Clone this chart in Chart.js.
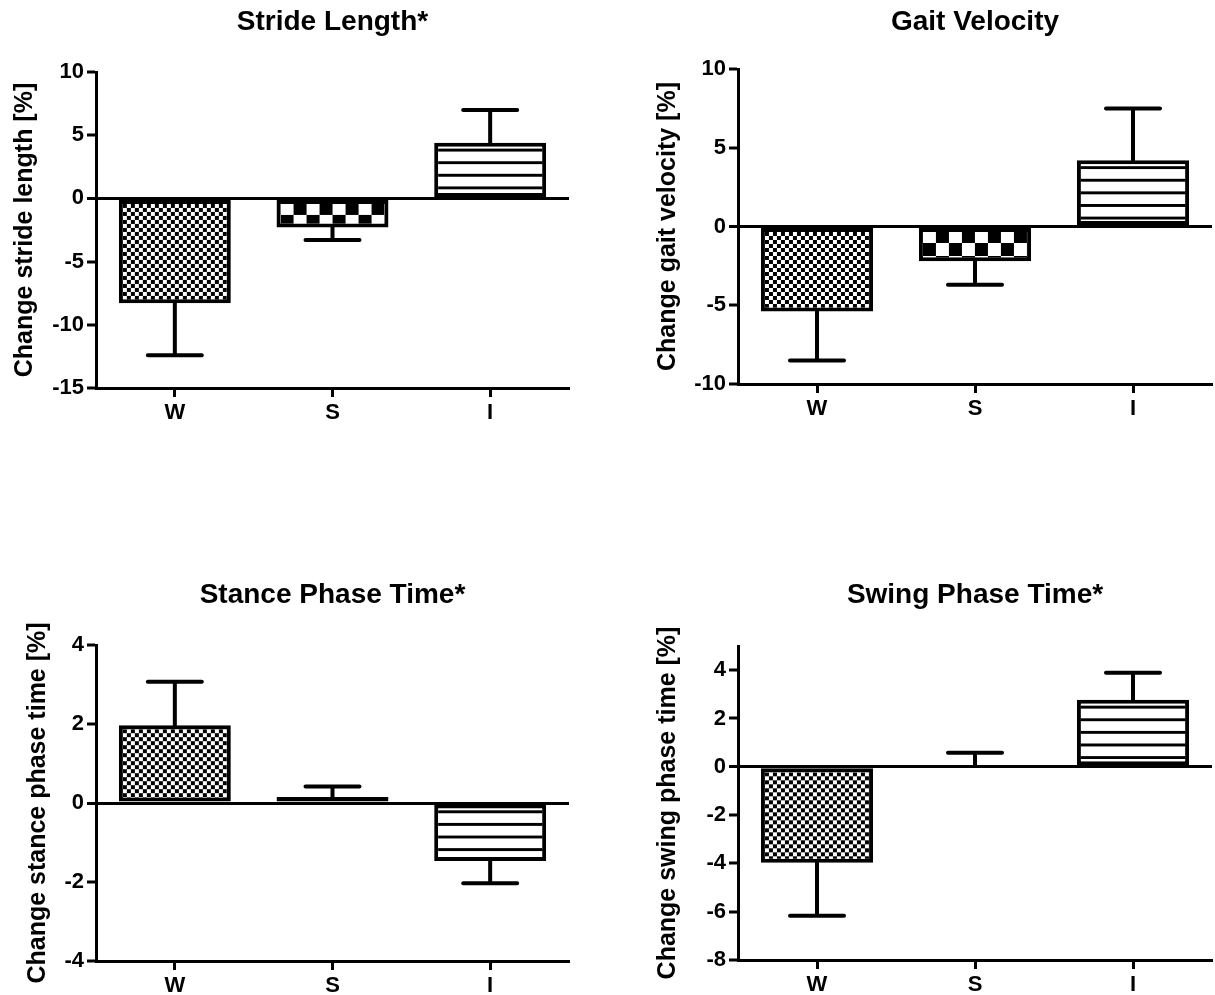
<!DOCTYPE html>
<html>
<head>
<meta charset="utf-8">
<script src="https://cdn.jsdelivr.net/npm/chart.js@4.4.1/dist/chart.umd.min.js"></script>
<style>
  html, body { margin: 0; padding: 0; background: #fff; width: 1215px; height: 995px; overflow: hidden; }
  canvas { position: absolute; }
</style>
</head>
<body>
<canvas id="c1" width="600" height="438" style="left:0px;top:0px"></canvas>
<canvas id="c2" width="575" height="434" style="left:640px;top:0px"></canvas>
<canvas id="c3" width="600" height="451" style="left:0px;top:560px"></canvas>
<canvas id="c4" width="575" height="450" style="left:640px;top:560px"></canvas>
<script>
// ---- Data ----
const categories = ['W', 'S', 'I'];

const strideTitle = 'Stride Length*';
const strideAxisTitle = 'Change stride length [%]';
const strideMean = [-8.3, -2.3, 4.4];
const strideSem = [4.1, 1.0, 2.6];
const strideTicks = [-15, -10, -5, 0, 5, 10];
const strideRange = [-15, 10];

const velocityTitle = 'Gait Velocity';
const velocityAxisTitle = 'Change gait velocity [%]';
const velocityMean = [-5.4, -2.2, 4.2];
const velocitySem = [3.1, 1.5, 3.3];
const velocityTicks = [-10, -5, 0, 5, 10];
const velocityRange = [-10, 10];

const stanceTitle = 'Stance Phase Time*';
const stanceAxisTitle = 'Change stance phase time [%]';
const stanceMean = [1.97, 0.15, -1.47];
const stanceSem = [1.1, 0.27, 0.56];
const stanceTicks = [-4, -2, 0, 2, 4];
const stanceRange = [-4, 4];

const swingTitle = 'Swing Phase Time*';
const swingAxisTitle = 'Change swing phase time [%]';
const swingMean = [-3.97, 0.03, 2.77];
const swingSem = [2.2, 0.55, 1.12];
const swingTicks = [-8, -6, -4, -2, 0, 2, 4];
const swingRange = [-8, 5];

// ---- Patterns ----
function makeTile(w, h, draw) {
  const c = document.createElement('canvas');
  c.width = w; c.height = h;
  const x = c.getContext('2d');
  x.fillStyle = '#fff'; x.fillRect(0, 0, w, h);
  x.fillStyle = '#000';
  draw(x);
  return c;
}
const fineTile = makeTile(8, 8, x => { x.fillRect(0, 0, 4, 4); x.fillRect(4, 4, 4, 4); });
const coarseTile = makeTile(26, 26, x => { x.fillRect(13, 0, 13, 13); x.fillRect(0, 13, 13, 13); });
const lineTile = makeTile(8, 13, x => { x.fillRect(0, 6, 8, 3); });

function makePatterns() {
  const ctx = document.createElement('canvas').getContext('2d');
  return [
    { p: ctx.createPattern(fineTile, 'repeat'), sy: 1, ox: 4, oy: 4 },
    { p: ctx.createPattern(coarseTile, 'repeat'), sy: 1, ox: 4, oy: 2 },
    { p: ctx.createPattern(lineTile, 'repeat'), sy: 12.6 / 13, ox: 0, oy: 0 }
  ];
}

const FONT = "'Liberation Sans', Arial, Helvetica, sans-serif";

const patternAlign = {
  id: 'patternAlign',
  beforeDatasetsDraw(chart, args, opts) {
    const meta = chart.getDatasetMeta(0);
    meta.data.forEach((el, i) => {
      const pr = el.getProps(['x', 'y', 'base', 'width'], true);
      const left = pr.x - pr.width / 2;
      const top = Math.min(pr.y, pr.base);
      const pt = opts.pats[i];
      pt.p.setTransform(new DOMMatrix([1, 0, 0, pt.sy, left + pt.ox, top + pt.oy]));
    });
  }
};

const errorBars = {
  id: 'errorBars',
  afterDatasetsDraw(chart, args, opts) {
    const meta = chart.getDatasetMeta(0);
    const ys = chart.scales.y;
    const ctx = chart.ctx;
    ctx.save();
    ctx.strokeStyle = '#000';
    ctx.lineWidth = 4;
    ctx.lineCap = 'round';
    meta.data.forEach((el, i) => {
      const m = opts.mean[i], s = opts.sem[i];
      const end = m >= 0 ? m + s : m - s;
      const pr = el.getProps(['x', 'y'], true);
      const yEnd = ys.getPixelForValue(end);
      ctx.beginPath();
      ctx.moveTo(pr.x, pr.y);
      ctx.lineTo(pr.x, yEnd);
      ctx.moveTo(pr.x - 27, yEnd);
      ctx.lineTo(pr.x + 27, yEnd);
      ctx.stroke();
    });
    ctx.restore();
  }
};

const yTitlePlugin = {
  id: 'yTitle',
  afterDraw(chart, args, opts) {
    const ctx = chart.ctx;
    const ca = chart.chartArea;
    ctx.save();
    ctx.translate(opts.x, (ca.top + ca.bottom) / 2);
    ctx.rotate(-Math.PI / 2);
    ctx.font = 'bold 25px ' + FONT;
    ctx.fillStyle = '#000';
    ctx.textAlign = 'center';
    ctx.textBaseline = 'middle';
    ctx.fillText(opts.text, 0, 0);
    ctx.restore();
  }
};

function makeChart(id, cfg) {
  const pats = makePatterns();
  return new Chart(document.getElementById(id), {
    type: 'bar',
    data: {
      labels: categories,
      datasets: [{
        data: cfg.mean,
        backgroundColor: pats.map(p => p.p),
        borderColor: '#000',
        borderWidth: 4,
        borderSkipped: false,
        categoryPercentage: 1,
        barPercentage: 0.71
      }]
    },
    plugins: [patternAlign, errorBars, yTitlePlugin],
    options: {
      responsive: false,
      animation: false,
      devicePixelRatio: 1,
      layout: { padding: { left: 0, right: cfg.padRight, top: 0, bottom: 0 } },
      plugins: {
        legend: { display: false },
        tooltip: { enabled: false },
        title: {
          display: true,
          text: cfg.title,
          fullSize: false,
          color: '#000',
          font: { family: FONT, size: 28, weight: 'bold', lineHeight: 1.2 },
          padding: { top: cfg.titleTop, bottom: cfg.titleBottom }
        },
        patternAlign: { pats: pats },
        errorBars: { mean: cfg.mean, sem: cfg.sem },
        yTitle: { text: cfg.axisTitle, x: cfg.axisTitleX }
      },
      scales: {
        x: {
          offset: true,
          grid: { display: true, drawOnChartArea: false, offset: false, tickLength: 9, tickWidth: 3, tickColor: '#000', color: '#000' },
          border: { display: true, color: '#000', width: 3 },
          ticks: { color: '#000', padding: 3, font: { family: FONT, size: 22, weight: 'bold' } },
          afterFit(s) { s.height = 50; }
        },
        y: {
          min: cfg.range[0],
          max: cfg.range[1],
          afterBuildTicks(s) { s.ticks = cfg.ticks.map(v => ({ value: v })); },
          grid: {
            drawOnChartArea: true,
            color: c => (c.tick && c.tick.value === 0) ? '#000' : 'rgba(0,0,0,0)',
            lineWidth: c => (c.tick && c.tick.value === 0) ? 3 : 0,
            tickLength: 9, tickWidth: 3, tickColor: '#000'
          },
          border: { display: true, color: '#000', width: 3 },
          ticks: { color: '#000', padding: 3, callback: v => String(v), font: { family: FONT, size: 22, weight: 'bold' } },
          afterFit(s) { s.width = cfg.yWidth; }
        }
      }
    }
  });
}

makeChart('c1', { title: strideTitle, axisTitle: strideAxisTitle, mean: strideMean, sem: strideSem, ticks: strideTicks, range: strideRange,
  padRight: 31, yWidth: 96, titleTop: 5, titleBottom: 33.4, axisTitleX: 25 });
makeChart('c2', { title: velocityTitle, axisTitle: velocityAxisTitle, mean: velocityMean, sem: velocitySem, ticks: velocityTicks, range: velocityRange,
  padRight: 3, yWidth: 98, titleTop: 5, titleBottom: 30.4, axisTitleX: 28 });
makeChart('c3', { title: stanceTitle, axisTitle: stanceAxisTitle, mean: stanceMean, sem: stanceSem, ticks: stanceTicks, range: stanceRange,
  padRight: 31, yWidth: 96, titleTop: 18.2, titleBottom: 33.2, axisTitleX: 38 });
makeChart('c4', { title: swingTitle, axisTitle: swingAxisTitle, mean: swingMean, sem: swingSem, ticks: swingTicks, range: swingRange,
  padRight: 3, yWidth: 98, titleTop: 18.2, titleBottom: 34.2, axisTitleX: 28 });
</script>
</body>
</html>
